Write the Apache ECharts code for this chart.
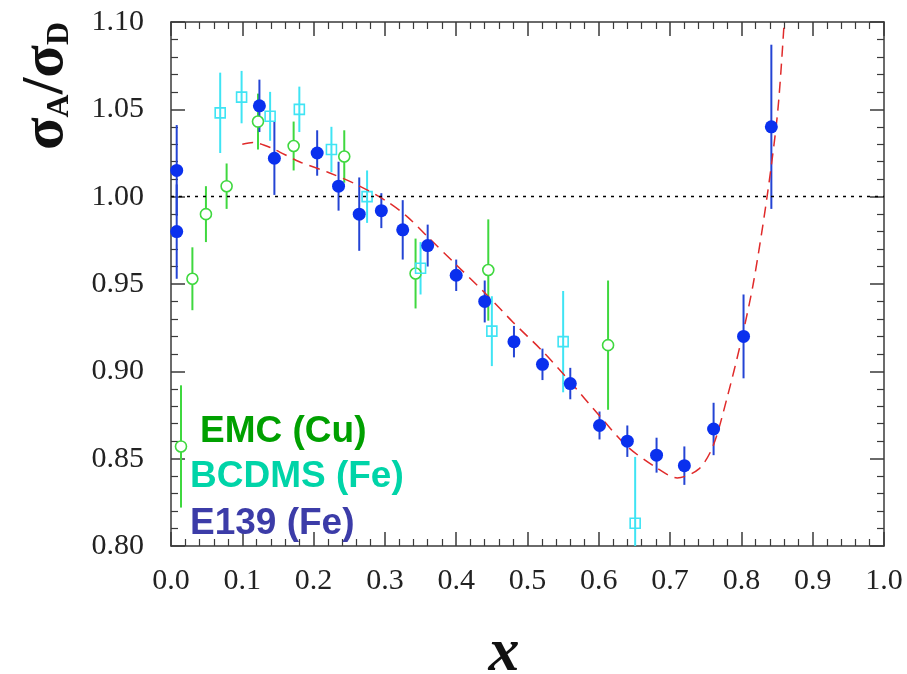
<!DOCTYPE html>
<html>
<head>
<meta charset="utf-8">
<script src="https://cdn.jsdelivr.net/npm/echarts@6/dist/echarts.min.js"></script>
<style>html,body{margin:0;padding:0;background:#fff}#c{width:907px;height:674px}</style>
</head>
<body>
<div id="c"></div>
<script>
// ---------- data ----------
const seriesNames = ['EMC (Cu)', 'BCDMS (Fe)', 'E139 (Fe)'];
const xTicks = [0, 0.1, 0.2, 0.3, 0.4, 0.5, 0.6, 0.7, 0.8, 0.9, 1.0];
const yTicks = [0.80, 0.85, 0.90, 0.95, 1.00, 1.05, 1.10];

const emcX   = [0.014, 0.030, 0.049, 0.078, 0.122, 0.172, 0.243, 0.343, 0.445, 0.613];
const emcY   = [0.857, 0.953, 0.990, 1.006, 1.043, 1.029, 1.023, 0.956, 0.958, 0.915];
const emcErr = [0.035, 0.018, 0.016, 0.013, 0.016, 0.014, 0.015, 0.020, 0.029, 0.037];

const bcdmsX   = [0.069, 0.099, 0.139, 0.180, 0.225, 0.275, 0.350, 0.450, 0.550, 0.651];
const bcdmsY   = [1.048, 1.057, 1.046, 1.050, 1.027, 1.000, 0.959, 0.923, 0.917, 0.813];
const bcdmsErr = [0.023, 0.015, 0.014, 0.013, 0.013, 0.015, 0.015, 0.020, 0.029, 0.038];

const e139X   = [0.008, 0.008, 0.124, 0.145, 0.205, 0.235, 0.264, 0.295, 0.325, 0.360, 0.400,
                 0.440, 0.481, 0.521, 0.560, 0.601, 0.640, 0.681, 0.720, 0.761, 0.803, 0.842];
const e139Y   = [1.015, 0.980, 1.052, 1.022, 1.025, 1.006, 0.990, 0.992, 0.981, 0.972, 0.955,
                 0.940, 0.917, 0.904, 0.893, 0.869, 0.860, 0.852, 0.846, 0.867, 0.920, 1.040];
const e139Err = [0.026, 0.027, 0.015, 0.021, 0.013, 0.014, 0.021, 0.010, 0.017, 0.012, 0.009,
                 0.012, 0.009, 0.009, 0.009, 0.008, 0.009, 0.010, 0.011, 0.015, 0.024, 0.047];

const fitX = [0.100, 0.115, 0.140, 0.180, 0.220, 0.260, 0.300, 0.330, 0.360, 0.400, 0.440, 0.480,
              0.520, 0.560, 0.600, 0.640, 0.680, 0.710, 0.740, 0.760, 0.780, 0.800, 0.817, 0.836, 0.851, 0.860];
const fitY = [1.030, 1.031, 1.028, 1.020, 1.014, 1.007, 0.998, 0.989, 0.977, 0.961, 0.945, 0.928,
              0.912, 0.894, 0.875, 0.857, 0.845, 0.839, 0.844, 0.857, 0.885, 0.918, 0.951, 1.000, 1.049, 1.100];

const refLine = 1.0;

// ---------- style ----------
const C_EMC = '#3fd83f', C_BC = '#3fe4f4', C_E139 = '#0a30ee', C_E139_BAR = '#2444d4';
const LEG_COL = ['#00a000', '#00d4a8', '#3c3ca8'];
const frame = '#3a3a3a';
const serif = '"Liberation Serif", "DejaVu Serif", serif';
const sans = '"Liberation Sans", Arial, sans-serif';

function zip3(a, b, c) { return a.map((v, i) => [v, b[i], c[i]]); }
function zip2(a, b) { return a.map((v, i) => [v, b[i]]); }

function errSeries(data, color) {
  return {
    type: 'custom', clip: true, silent: true, z: 2,
    data: data, encode: { x: 0, y: 1 },
    renderItem: function (params, api) {
      const x = api.value(0), y = api.value(1), e = api.value(2);
      const p1 = api.coord([x, y + e]);
      const p2 = api.coord([x, y - e]);
      return { type: 'line', shape: { x1: p1[0], y1: p1[1], x2: p2[0], y2: p2[1] },
               style: { stroke: color, lineWidth: 2 } };
    }
  };
}

const axisCommon = (pos, showLabel) => ({
  type: 'value', position: pos,
  axisLine: { show: true, onZero: false, lineStyle: { color: frame, width: 1.5 } },
  axisTick: { show: true, inside: true, length: 14, lineStyle: { color: frame, width: 1.5 } },
  minorTick: { show: true, splitNumber: 5, length: 7, lineStyle: { color: frame, width: 1.2 } },
  splitLine: { show: false },
  axisLabel: { show: showLabel, fontFamily: serif, fontSize: 30, color: '#222' }
});

const xA = (pos, show) => Object.assign(axisCommon(pos, show), {
  min: xTicks[0], max: xTicks[xTicks.length - 1], interval: xTicks[1] - xTicks[0]
});
const yA = (pos, show) => Object.assign(axisCommon(pos, show), {
  min: yTicks[0], max: yTicks[yTicks.length - 1], interval: yTicks[1] - yTicks[0]
});

const x0 = xA('bottom', true);
x0.axisLabel.formatter = v => v.toFixed(1);
x0.axisLabel.margin = 20;
const x1 = xA('top', false);
const y0 = yA('left', true);
y0.axisLabel.formatter = v => v.toFixed(2);
y0.axisLabel.margin = 27;
const y1 = yA('right', false);

const chart = echarts.init(document.getElementById('c'), null, { renderer: 'canvas' });
chart.setOption({
  animation: false,
  backgroundColor: '#fff',
  grid: { left: 171, right: 23, top: 22, bottom: 128 },
  xAxis: [x0, x1],
  yAxis: [y0, y1],
  series: [
    errSeries(zip3(emcX, emcY, emcErr), C_EMC),
    errSeries(zip3(bcdmsX, bcdmsY, bcdmsErr), C_BC),
    {
      name: seriesNames[0], type: 'scatter', data: zip2(emcX, emcY), z: 3,
      symbol: 'circle', symbolSize: 11,
      itemStyle: { color: '#fff', opacity: 1, borderColor: C_EMC, borderWidth: 1.6 }
    },
    {
      name: seriesNames[1], type: 'scatter', data: zip2(bcdmsX, bcdmsY), z: 3,
      symbol: 'rect', symbolSize: 10,
      itemStyle: { color: 'rgba(255,255,255,0)', opacity: 1, borderColor: C_BC, borderWidth: 1.6 }
    },
    {
      type: 'line', data: zip2(fitX, fitY), smooth: 0.3, symbol: 'none', z: 4, clip: true,
      lineStyle: { color: '#e02a2a', width: 1.5, type: [11, 7] },
      markLine: {
        silent: true, symbol: 'none', label: { show: false },
        lineStyle: { color: '#000', width: 1.3, type: [3, 5] },
        data: [{ yAxis: refLine }]
      }
    },
    errSeries(zip3(e139X, e139Y, e139Err), C_E139_BAR),
    {
      name: seriesNames[2], type: 'scatter', data: zip2(e139X, e139Y), z: 6,
      symbol: 'circle', symbolSize: 13,
      itemStyle: { color: C_E139, opacity: 1 }
    }
  ],
  graphic: [
    {
      type: 'text', x: 200, y: 432, z: 10,
      style: { text: seriesNames[0], fill: LEG_COL[0], fontFamily: sans,
               fontWeight: 'bold', fontSize: 37, verticalAlign: 'middle' }
    },
    {
      type: 'text', x: 190, y: 477, z: 10,
      style: { text: seriesNames[1], fill: LEG_COL[1], fontFamily: sans,
               fontWeight: 'bold', fontSize: 37, verticalAlign: 'middle' }
    },
    {
      type: 'text', x: 190, y: 524, z: 10,
      style: { text: seriesNames[2], fill: LEG_COL[2], fontFamily: sans,
               fontWeight: 'bold', fontSize: 37, verticalAlign: 'middle' }
    },
    {
      type: 'text', x: 504, y: 654, z: 10,
      style: { text: 'x', fill: '#111', fontFamily: serif, fontWeight: 'bold', fontStyle: 'italic',
               fontSize: 62, align: 'center', verticalAlign: 'middle' }
    },
    {
      type: 'text', x: 46, y: 86, rotation: Math.PI / 2, z: 10,
      style: {
        text: '{s|σ}{a|A}{s|/σ}{a|D}', align: 'center', verticalAlign: 'middle', fill: '#111',
        rich: {
          s: { fontFamily: serif, fontWeight: 'bold', fontSize: 60, lineHeight: 60, padding: [0, 0, 22, 0], verticalAlign: 'top', fill: '#111' },
          a: { fontFamily: serif, fontWeight: 'bold', fontSize: 32, lineHeight: 32, verticalAlign: 'bottom', fill: '#111' }
        }
      }
    }
  ]
});
</script>
</body>
</html>
